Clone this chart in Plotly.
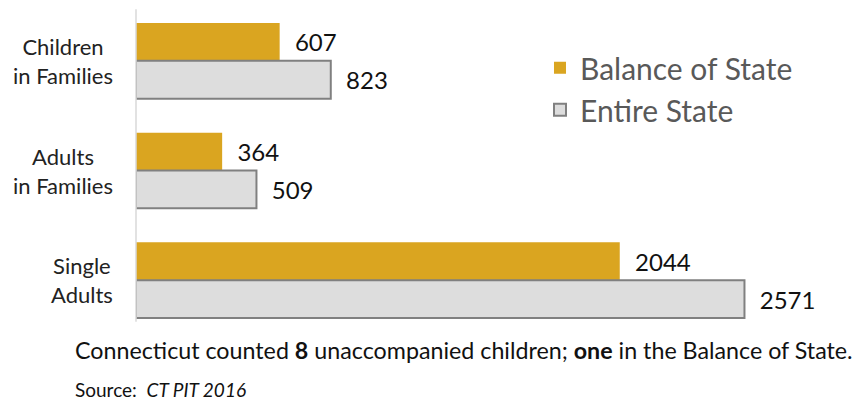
import plotly.graph_objects as go

categories = ["Children<br>in Families", "Adults<br>in Families", "Single<br>Adults"]
balance_of_state = [607, 364, 2044]
entire_state = [823, 509, 2571]
series_names = ["Balance of State", "Entire State"]
footer_line1 = "Connecticut counted <b>8</b> unaccompanied children; <b>one</b> in the Balance of State."
footer_line2 = "Source:  <i>CT PIT 2016</i>"

FONT = "Lato"
PAD = "\u00a0\u00a0"

fig = go.Figure()
fig.add_trace(go.Bar(
    y=categories, x=balance_of_state, orientation="h", name=series_names[0],
    marker=dict(color="#DAA520", line=dict(width=0)),
    text=balance_of_state, texttemplate=PAD + "%{x}", textposition="outside", cliponaxis=False,
    constraintext="none",
    textfont=dict(family=FONT, size=24, color="#111111"),
))
fig.add_trace(go.Bar(
    y=categories, x=entire_state, orientation="h", name=series_names[1],
    marker=dict(color="#DDDDDD", line=dict(width=2, color="#808080")),
    text=entire_state, texttemplate=PAD + "%{x}", textposition="outside", cliponaxis=False,
    constraintext="none",
    textfont=dict(family=FONT, size=24, color="#111111"),
))

# category labels, centred line by line like the original
cat_labels = [
    dict(text=c, xref="paper", yref="y", x=-0.029, y=c, xanchor="right", yanchor="middle",
         align="center", showarrow=False, font=dict(family=FONT, size=22, color="#222222"))
    for c in categories
]

fig.update_layout(
    width=855, height=417,
    margin=dict(l=136, r=9, t=6, b=82, autoexpand=False),
    paper_bgcolor="white", plot_bgcolor="white",
    barmode="group", bargap=0.31, bargroupgap=0,
    showlegend=True,
    legend=dict(x=0.569, y=0.891, xanchor="left", yanchor="top",
                font=dict(family=FONT, size=30, color="#595959"),
                traceorder="normal", bgcolor="rgba(0,0,0,0)"),
    xaxis=dict(range=[0, 3000], visible=False, showgrid=False, zeroline=False, fixedrange=True,
               automargin=False),
    yaxis=dict(autorange="reversed", showline=False, showgrid=False, zeroline=False,
               showticklabels=False, ticks="", automargin=False),
    shapes=[dict(type="line", xref="paper", yref="paper", x0=0, x1=0, y0=0.04, y1=0.99,
                 line=dict(color="#D9D9D9", width=1.5))],
    annotations=cat_labels + [
        dict(text=footer_line1, xref="paper", yref="paper", x=-0.0887, y=-0.046,
             xanchor="left", yanchor="middle", showarrow=False,
             font=dict(family=FONT, size=23.25, color="#111111")),
        dict(text=footer_line2, xref="paper", yref="paper", x=-0.0887, y=-0.167,
             xanchor="left", yanchor="middle", showarrow=False,
             font=dict(family=FONT, size=19, color="#111111")),
    ],
)

fig.write_html("out.html", config={"displayModeBar": False},
               post_script="document.body.style.margin='0';")
